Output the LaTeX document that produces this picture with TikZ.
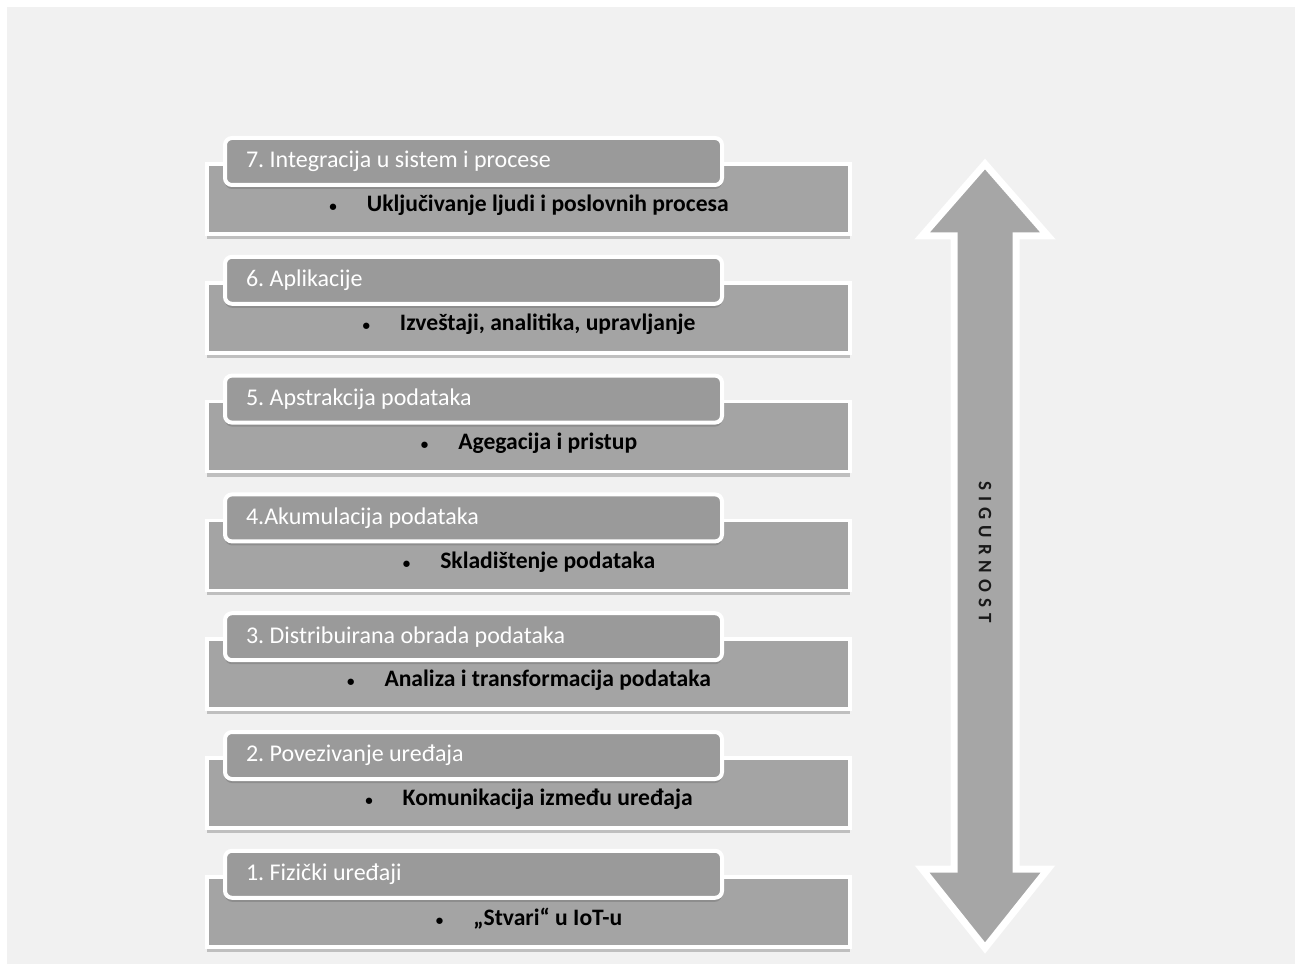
\documentclass[tikz,border=0pt]{standalone}
\usepackage{fontspec}
\setmainfont{Carlito}
\usetikzlibrary{shadows,calc}
\definecolor{panel}{RGB}{241,241,241}
\definecolor{barfill}{RGB}{164,164,164}
\definecolor{tabfill}{RGB}{154,154,154}
\definecolor{arrowfill}{RGB}{166,166,166}
\newcommand{\spaced}[1]{\def\spc##1{##1\kern6pt}\spc S\spc I\spc G\spc U\spc R\spc N\spc O\spc S T}
\newcommand{\itemdot}{{\fontsize{15}{15}\selectfont\textbullet}\hspace{30pt}}
\frenchspacing
\begin{document}
\begin{tikzpicture}[x=1pt,y=-1pt,
  layerbar/.style={draw=white, line width=3.5pt, fill=barfill,
    minimum width=643pt, minimum height=70pt, inner sep=0pt,
    drop shadow={shadow xshift=0pt, shadow yshift=-5pt, opacity=0.3, fill=black!70}},
  layertab/.style={draw=white, line width=4pt, fill=tabfill, rounded corners=7pt,
    minimum height=47pt, text width=455pt, inner xsep=21pt, inner ysep=0pt,
    align=flush left, text=white, font=\fontsize{24}{26}\selectfont,
    drop shadow={shadow xshift=0pt, shadow yshift=-4pt, opacity=0.25, fill=black!70}},
  layeritem/.style={text=black, font=\bfseries\fontsize{23.6}{26}\selectfont, inner sep=0pt},
  bigarrow/.style={draw=white, line width=7pt, fill=arrowfill, line join=miter,
    drop shadow={shadow xshift=0pt, shadow yshift=-3pt, opacity=0.15, fill=black}},
]
\useasboundingbox (0,0) rectangle (1295,965);
\fill[white] (0,0) rectangle (1295,965);
\fill[panel] (7,7) rectangle (1295,964);

% seven stacked layers, 7 at the top
\foreach \k/\head/\item in {
  7/{7. Integracija u sistem i procese}/{Uključivanje ljudi i poslovnih procesa},
  6/{6. Aplikacije}/{Izveštaji, analitika, upravljanje},
  5/{5. Apstrakcija podataka}/{Agegacija i pristup},
  4/{4.Akumulacija podataka}/{Skladištenje podataka},
  3/{3. Distribuirana obrada podataka}/{Analiza i transformacija podataka},
  2/{2. Povezivanje uređaja}/{Komunikacija između uređaja},
  1/{1. Fizički uređaji}/{„Stvari“ u IoT-u}}{
  \pgfmathsetmacro{\dy}{(7-\k)*118.8}
  \node[layerbar] (b\k) at (528.5,199+\dy) {};
  \node[layertab] (t\k) at (473.5,161.5+\dy) {\head};
  \node[layeritem] (i\k) at (529,205.5+\dy) {\itemdot\item};
}

% double-headed security arrow
\path[bigarrow] (985,164) -- (1048,236) -- (1016,236) -- (1016,869) -- (1048,869)
  -- (985,948) -- (922,869) -- (954,869) -- (954,236) -- (922,236) -- cycle;
\node[rotate=-90, font=\bfseries\fontsize{19}{22}\selectfont, text=black!90] (sec) at (985,552) {\spaced{}};
\end{tikzpicture}
\end{document}
